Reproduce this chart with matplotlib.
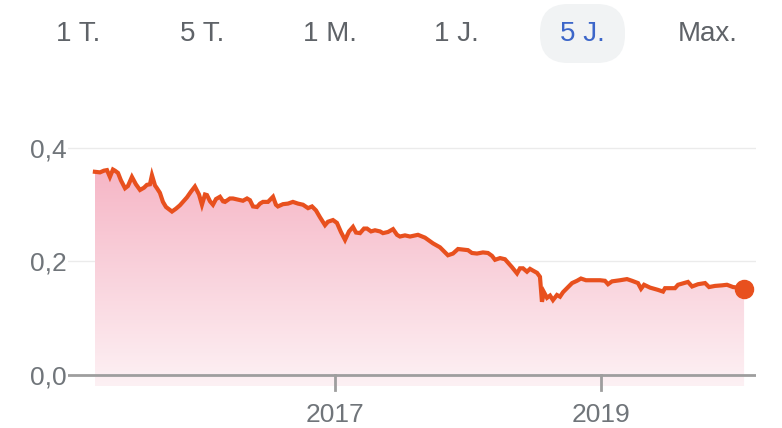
import matplotlib
matplotlib.use("Agg")
import matplotlib.pyplot as plt
import numpy as np
import matplotlib.colors as mcolors
from matplotlib.patches import FancyBboxPatch

plt.rcParams['font.family'] = ['Liberation Sans', 'DejaVu Sans']

years = [2015.186, 2015.224, 2015.254, 2015.277, 2015.299, 2015.322, 2015.337, 2015.360, 2015.382, 2015.413,
         2015.435, 2015.465, 2015.495, 2015.526, 2015.556, 2015.578, 2015.601, 2015.616, 2015.639, 2015.654,
         2015.676, 2015.699, 2015.722, 2015.744, 2015.767, 2015.797, 2015.827, 2015.850, 2015.880, 2015.910,
         2015.940, 2015.971, 2015.993, 2016.016, 2016.031, 2016.054, 2016.076, 2016.099, 2016.129, 2016.152,
         2016.167, 2016.204, 2016.227, 2016.265, 2016.302, 2016.333, 2016.355, 2016.378, 2016.408, 2016.431,
         2016.453, 2016.491, 2016.529, 2016.551, 2016.566, 2016.604, 2016.642, 2016.679, 2016.717, 2016.755,
         2016.793, 2016.823, 2016.853, 2016.883, 2016.921, 2016.943, 2016.981, 2017.011, 2017.041, 2017.072,
         2017.102, 2017.132, 2017.155, 2017.185, 2017.215, 2017.238, 2017.268, 2017.298, 2017.336, 2017.358,
         2017.396, 2017.434, 2017.464, 2017.486, 2017.524, 2017.562, 2017.622, 2017.675, 2017.735, 2017.788,
         2017.848, 2017.886, 2017.924, 2017.962, 2017.999, 2018.029, 2018.067, 2018.112, 2018.150, 2018.180,
         2018.203, 2018.241, 2018.278, 2018.301, 2018.331, 2018.369, 2018.391, 2018.414, 2018.444, 2018.467,
         2018.489, 2018.520, 2018.542, 2018.557, 2018.572, 2018.595, 2018.618, 2018.640, 2018.670, 2018.693,
         2018.716, 2018.746, 2018.784, 2018.821, 2018.851, 2018.889, 2018.934, 2018.995, 2019.032, 2019.055,
         2019.085, 2019.146, 2019.198, 2019.236, 2019.281, 2019.304, 2019.327, 2019.372, 2019.432, 2019.470,
         2019.485, 2019.523, 2019.560, 2019.583, 2019.628, 2019.658, 2019.689, 2019.734, 2019.787, 2019.817,
         2019.862, 2019.915, 2019.952, 2019.998, 2020.035, 2020.081]
values = [0.358, 0.357, 0.360, 0.361, 0.349, 0.362, 0.360, 0.356, 0.343, 0.329,
          0.333, 0.349, 0.336, 0.326, 0.330, 0.335, 0.336, 0.352, 0.334, 0.329,
          0.321, 0.305, 0.296, 0.292, 0.288, 0.293, 0.299, 0.305, 0.313, 0.323,
          0.332, 0.318, 0.300, 0.318, 0.317, 0.306, 0.300, 0.310, 0.314, 0.306,
          0.305, 0.311, 0.311, 0.309, 0.307, 0.311, 0.308, 0.297, 0.296, 0.302,
          0.305, 0.305, 0.314, 0.300, 0.297, 0.301, 0.302, 0.305, 0.302, 0.300,
          0.294, 0.297, 0.290, 0.278, 0.264, 0.270, 0.273, 0.268, 0.252, 0.238,
          0.253, 0.261, 0.251, 0.250, 0.258, 0.258, 0.253, 0.255, 0.253, 0.250,
          0.252, 0.257, 0.247, 0.244, 0.246, 0.244, 0.247, 0.242, 0.232, 0.225,
          0.211, 0.214, 0.222, 0.221, 0.220, 0.215, 0.214, 0.216, 0.215, 0.210,
          0.203, 0.206, 0.204, 0.198, 0.190, 0.179, 0.188, 0.188, 0.182, 0.187,
          0.184, 0.180, 0.173, 0.129, 0.146, 0.136, 0.140, 0.132, 0.141, 0.138,
          0.146, 0.153, 0.162, 0.166, 0.170, 0.167, 0.167, 0.167, 0.166, 0.160,
          0.165, 0.167, 0.169, 0.166, 0.162, 0.152, 0.159, 0.154, 0.150, 0.147,
          0.153, 0.153, 0.153, 0.159, 0.162, 0.164, 0.156, 0.160, 0.162, 0.155,
          0.157, 0.158, 0.159, 0.155, 0.154, 0.151]

range_buttons = ["1 T.", "5 T.", "1 M.", "1 J.", "5 J.", "Max."]
button_x = [78, 202, 330, 456, 582, 708]
active_button = "5 J."

y_ticks = [0.0, 0.2, 0.4]
y_labels = ["0,0", "0,2", "0,4"]
x_ticks = [2017, 2019]
x_labels = ["2017", "2019"]

W, H = 782, 428
fig = plt.figure(figsize=(W / 100, H / 100), dpi=100)

# top row with range buttons
top = fig.add_axes([0, 0, 1, 1])
top.set_xlim(0, W)
top.set_ylim(H, 0)
top.axis("off")
for lab, bx in zip(range_buttons, button_x):
    col = "#5f6368"
    if lab == active_button:
        col = "#3c66c9"
        pill = FancyBboxPatch((bx - 42 + 28, 4 + 28), 85 - 56, 59 - 56,
                              boxstyle="round,pad=28", fc="#f1f3f4", ec="none")
        top.add_patch(pill)
    top.text(bx, 34, lab, ha="center", va="center", fontsize=20, color=col)

# chart
x = np.array(years)
y = np.array(values)
ymin, ymax = -0.02, 0.42
ax = fig.add_axes([68 / W, 1 - 386.4 / H, (756 - 68) / W, (386.4 - 136.6) / H])
ax.set_xlim(2014.983, 2020.171)
ax.set_ylim(ymin, ymax)

for t in y_ticks[1:]:
    ax.axhline(t, color="#ebebeb", lw=1, zorder=1)

cmap = mcolors.LinearSegmentedColormap.from_list("pink", ["#fdf1f4", "#f6b6c6"])
grad = np.linspace(0, 1, 256).reshape(-1, 1)
img = ax.imshow(grad, extent=[x[0], x[-1], ymin, y.max()], origin="lower",
                aspect="auto", cmap=cmap, zorder=2)
poly = ax.fill_between(x, ymin, y, color="none", lw=0)
img.set_clip_path(poly.get_paths()[0], transform=ax.transData)

ax.axhline(0, color="#9e9e9e", lw=2, zorder=3)
ax.plot(x, y, color="#e8501e", lw=3.0, solid_joinstyle="miter", zorder=4)
ax.plot(x[-1], y[-1], "o", color="#e8501e", ms=13, zorder=5)

for s in ax.spines.values():
    s.set_visible(False)
ax.set_yticks(y_ticks)
ax.set_yticklabels(y_labels)
ax.set_xticks(x_ticks)
ax.set_xticklabels(x_labels)
ax.tick_params(axis="y", length=0, pad=1, labelsize=19, labelcolor="#70757a")
ax.tick_params(axis="x", length=0, pad=0, labelsize=19, labelcolor="#70757a")
for t in x_ticks:
    ax.plot([t, t], [0, -0.026], color="#9e9e9e", lw=2, clip_on=False, zorder=3)
for lab in ax.get_xticklabels():
    lab.set_y(-0.065)

fig.savefig("out.png", dpi=100)
